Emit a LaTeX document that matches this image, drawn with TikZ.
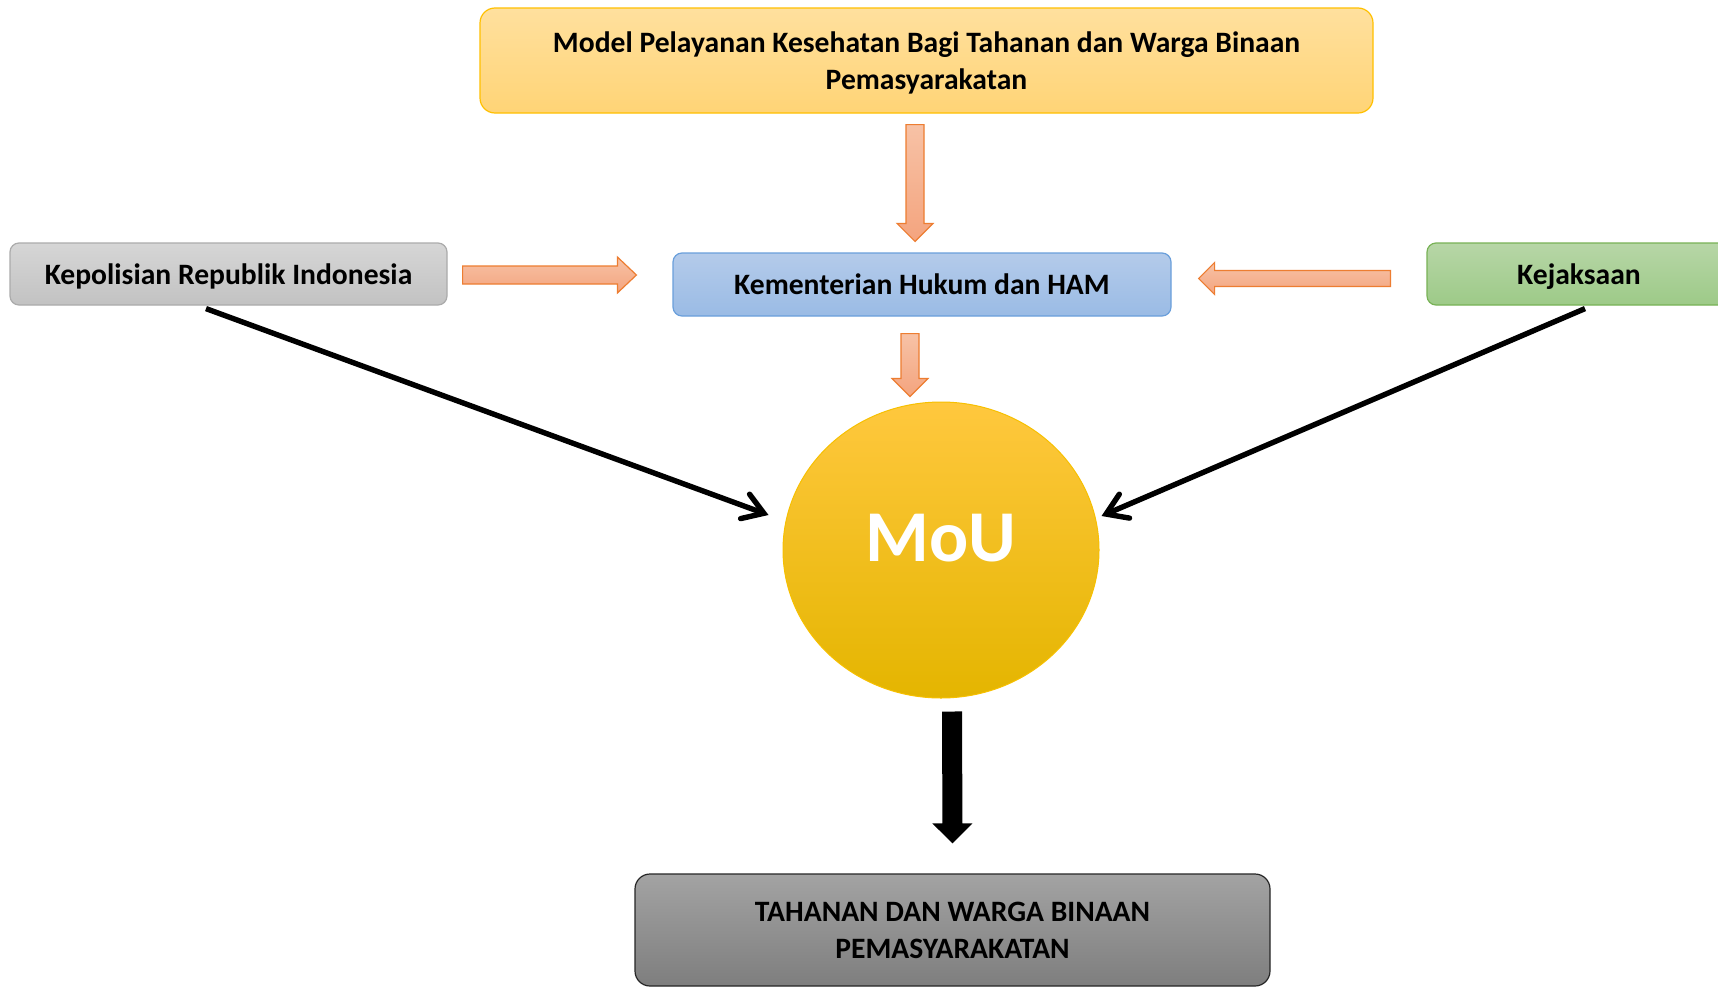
\documentclass[tikz,border=0pt]{standalone}
\usepackage{fontspec}
\setmainfont{Carlito}
\usetikzlibrary{calc,arrows.meta,shapes.geometric}
\definecolor{topT}{HTML}{FFE09E}
\definecolor{topB}{HTML}{FFD476}
\definecolor{topD}{HTML}{FFC000}
\definecolor{grayT}{HTML}{D6D6D6}
\definecolor{grayB}{HTML}{C2C2C2}
\definecolor{grayD}{HTML}{ABABAB}
\definecolor{blueT}{HTML}{B4CBEA}
\definecolor{blueB}{HTML}{9ABBE5}
\definecolor{blueD}{HTML}{6A9FDB}
\definecolor{greenT}{HTML}{B7D6A7}
\definecolor{greenB}{HTML}{9DCA88}
\definecolor{greenD}{HTML}{78B256}
\definecolor{orT}{HTML}{F7C2A6}
\definecolor{orB}{HTML}{F4A47E}
\definecolor{orD}{HTML}{ED7D31}
\definecolor{mouT}{HTML}{FFC83E}
\definecolor{mouM}{HTML}{FFC400}
\definecolor{mouB}{HTML}{E4B500}
\definecolor{mouD}{HTML}{F7C000}
\definecolor{darkT}{HTML}{A3A3A3}
\definecolor{darkB}{HTML}{7E7E7E}
\tikzset{
  box/.style={rectangle, rounded corners=9pt, line width=1.2pt, align=center,
    inner sep=0pt, text depth=0pt, font=\bfseries\fontsize{29.6}{37}\selectfont},
  topbox/.style={box, draw=topD, top color=topT, bottom color=topB, rounded corners=15pt},
  graybox/.style={box, draw=grayD, top color=grayT, bottom color=grayB},
  bluebox/.style={box, draw=blueD, top color=blueT, bottom color=blueB},
  greenbox/.style={box, draw=greenD, top color=greenT, bottom color=greenB},
  darkbox/.style={box, draw=black!85, top color=darkT, bottom color=darkB, rounded corners=15pt},
  mouball/.style={ellipse, draw=mouD, line width=1pt, top color=mouT, middle color=mouM, bottom color=mouB, inner sep=0pt},
  orangearr/.style={draw=orD, line width=1.2pt, top color=orT, bottom color=orB, line join=miter},
  blackarr/.style={fill=black},
  conn/.style={draw=black, line width=5.4pt,
    -{Straight Barb[length=20pt, width=26pt, line cap=round, line width=5.4pt]}},
}
\newcommand\blockarr[6]{%
  \coordinate (bahead) at ($(#3)!#6!(#2)$);
  \path[#1] ($(#2)!#4!90:(#3)$) -- ($(bahead)!#4!90:(#3)$) -- ($(bahead)!#5!90:(#3)$)
    -- (#3) -- ($(bahead)!#5!-90:(#3)$) -- ($(bahead)!#4!-90:(#3)$)
    -- ($(#2)!#4!-90:(#3)$) -- cycle;}
\begin{document}
\begin{tikzpicture}[x=1pt,y=-1pt]
\clip (0,0) rectangle (1718,988);
\fill[white] (0,0) rectangle (1718,988);

\node[topbox, minimum width=893pt, minimum height=105pt] (model) at (926.5,60.5)
  {Model Pelayanan Kesehatan Bagi Tahanan dan Warga Binaan\\Pemasyarakatan};
\node[graybox, minimum width=437pt, minimum height=62pt] (polri) at (228.5,274)
  {Kepolisian Republik Indonesia};
\node[bluebox, minimum width=498pt, minimum height=63pt] (kemenkum) at (922,284.5)
  {Kementerian Hukum dan HAM};
\node[greenbox, minimum width=304pt, minimum height=62pt] (kejaksaan) at (1579,274)
  {Kejaksaan};
\node[mouball, minimum width=316pt, minimum height=296pt] (mou) at (941,550) {};
\node[font=\bfseries\fontsize{73}{80}\selectfont, text=white] (moutext) at (941,538) {MoU};
\node[darkbox, minimum width=635pt, minimum height=112pt] (tahanan) at (952.5,930)
  {TAHANAN DAN WARGA BINAAN\\PEMASYARAKATAN};

% block arrows
\coordinate (a1s) at ($(model.south)+(-11.5,11)$);
\coordinate (a1e) at ($(kemenkum.north)+(-7,-11)$);
\blockarr{orangearr}{a1s}{a1e}{9pt}{18pt}{18pt}
\coordinate (a2s) at ($(kemenkum.south)+(-12,17)$);
\coordinate (a2e) at ($(mou.north)+(-31,-5)$);
\blockarr{orangearr}{a2s}{a2e}{9pt}{18pt}{18pt}
\coordinate (a3s) at ($(polri.east)+(15,1)$);
\coordinate (a3e) at ($(kemenkum.west)+(-36,-9.5)$);
\blockarr{orangearr}{a3s}{a3e}{9pt}{18pt}{19pt}
\coordinate (a4s) at ($(kejaksaan.west)+(-36,4.5)$);
\coordinate (a4e) at ($(kemenkum.east)+(27,-6)$);
\blockarr{orangearr}{a4s}{a4e}{8pt}{16pt}{16pt}
\coordinate (a5s) at ($(mou.south)+(11,13)$);
\coordinate (a5e) at ($(tahanan.north)+(0,-30)$);
\blockarr{blackarr}{a5s}{a5e}{10pt}{20pt}{20pt}

% black connectors
\coordinate (c1e) at ($(mou.west)+(-14,-35)$);
\coordinate (c2e) at ($(mou.east)+(2,-34)$);
\draw[conn] ($(polri.south)+(-22.5,3)$) -- (c1e);
\draw[conn] ($(kejaksaan.south)+(6,3)$) -- (c2e);
\end{tikzpicture}
\end{document}
